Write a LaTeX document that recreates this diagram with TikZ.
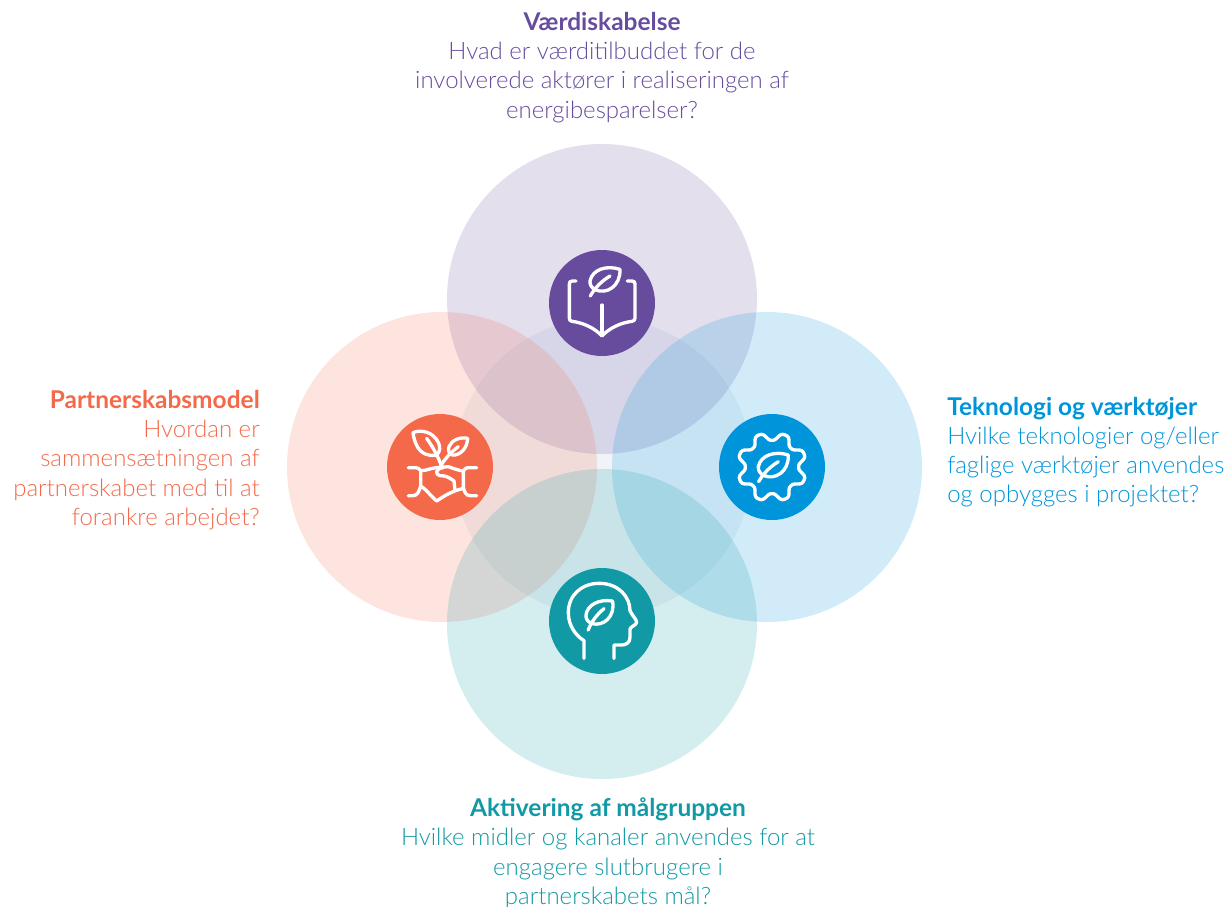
\documentclass[tikz,border=0pt]{standalone}
\usepackage{fontspec}
\setmainfont{Lato Light}[BoldFont=Lato Bold]
\usetikzlibrary{positioning}
\definecolor{vaerdiCol}{HTML}{674C9E}
\definecolor{partnerCol}{HTML}{F4694A}
\definecolor{teknoCol}{HTML}{0095DA}
\definecolor{aktivCol}{HTML}{1299A6}
\definecolor{midCol}{RGB}{155,182,208}
\newcommand{\capTitle}[1]{{\fontsize{18.35}{21.9}\selectfont\bfseries #1}}

\begin{document}
\begin{tikzpicture}[
        x=0.75pt, y=-0.75pt,
        declare function={gearrad(\t)=92+13*cos(8*(\t-22.5))-1.2*cos(24*(\t-22.5));},
        bigdisc/.style={
            circle, inner sep=0pt, minimum size=232.5pt, fill opacity=0.18
        },
        icondisc/.style={
            circle, inner sep=0pt, minimum size=79.5pt
        },
        caption/.style={
            font=\fontsize{18}{21.9}\selectfont, inner sep=0pt
        },
        iconline/.style={
            draw=white, line width=2.5pt, line cap=round, line join=round
        },
        iconscope/.style={
            shift={#1}, x=0.25pt, y=-0.25pt
        },
        leaf/.pic={
            \draw[iconline] (45,-35) .. controls (5,-48) and (-38,-35) .. (-45,0) .. controls (-46,12) and (-40,20) .. (-30,26) .. controls (5,42) and (47,15) .. (45,-35);
            \draw[iconline] (-44,45) .. controls (-30,20) and (-10,0) .. (15,-15);
        },
    ]
    \useasboundingbox (0,0) rectangle (1229,907);

    \node (midDisc) [circle, inner sep=0pt, minimum size=223.5pt, fill=midCol, fill opacity=0.15] at (603,467) {};

    \node (vaerdiDisc) [bigdisc, fill=vaerdiCol] at (602,299) {};
    \node (partnerDisc) [bigdisc, fill=partnerCol] at (442,467) {};
    \node (teknoDisc) [bigdisc, fill=teknoCol] at (767,467) {};
    \node (aktivDisc) [bigdisc, fill=aktivCol] at (602,624) {};

    \node (vaerdiIcon) [icondisc, fill=vaerdiCol] at (602,303) {};
    \node (partnerIcon) [icondisc, fill=partnerCol] at (440,467) {};
    \node (teknoIcon) [icondisc, fill=teknoCol] at (772,467) {};
    \node (aktivIcon) [icondisc, fill=aktivCol] at (602,621) {};

    % book
    \begin{scope}[iconscope={(540,240)}]
        \draw[iconline] (108,123) -- (97,123) .. controls (91,123) and (88,126) .. (88,132) -- (88,234) .. controls (88,240) and (90,243) .. (96,244) .. controls (130,248) and (165,265) .. (186,288) .. controls (207,265) and (242,248) .. (276,244) .. controls (282,243) and (285,240) .. (285,234) -- (285,132) .. controls (285,126) and (282,123) .. (276,123) -- (262,123);
        \draw[iconline] (186,195) -- (186,285);
        \path (195,123) pic {leaf};
    \end{scope}

    % plant and hands
    \begin{scope}[iconscope={(380,405)}]
        \draw[iconline] (99,83) .. controls (125,72) and (160,82) .. (175,112) .. controls (182,128) and (180,140) .. (170,150) .. controls (150,155) and (125,148) .. (112,125) .. controls (104,110) and (100,95) .. (99,83) -- cycle;
        \draw[iconline] (140,100) .. controls (158,125) and (175,155) .. (185,185);
        \draw[iconline] (263,100) .. controls (240,95) and (215,105) .. (207,125) .. controls (203,138) and (208,148) .. (218,150) .. controls (240,152) and (262,130) .. (263,100) -- cycle;
        \draw[iconline] (235,125) .. controls (215,140) and (195,160) .. (182,183);
        \draw[iconline] (85,188) -- (108,188) .. controls (115,188) and (118,192) .. (122,197) .. controls (122,215) and (122,230) .. (122,243) .. controls (118,258) and (112,272) .. (100,272) -- (85,272);
        \draw[iconline] (122,197) .. controls (140,197) and (150,190) .. (168,188) -- (205,185) .. controls (225,192) and (235,196) .. (250,198);
        \draw[iconline] (290,188) -- (268,188) .. controls (258,188) and (252,192) .. (250,198) -- (250,245) .. controls (252,260) and (258,272) .. (270,272) -- (290,272);
        \draw[iconline] (122,243) .. controls (135,250) and (150,270) .. (170,288) .. controls (190,275) and (210,260) .. (250,250);
        \draw[iconline] (190,188) .. controls (165,190) and (165,210) .. (180,212) .. controls (195,212) and (205,215) .. (222,228) -- (225,255);
    \end{scope}

    % gear
    \begin{scope}[iconscope={(710,405)}]
        \draw[iconline] plot[domain=0:360, samples=289, smooth] ({186+gearrad(\x)*cos(\x)}, {186+gearrad(\x)*sin(\x)}) -- cycle;
        \path (190,185) pic {leaf};
    \end{scope}

    % head
    \begin{scope}[iconscope={(540,560)}]
        \draw[iconline] (132,295) -- (132,242) .. controls (105,225) and (85,195) .. (85,158) .. controls (85,105) and (125,70) .. (178,70) .. controls (235,70) and (270,110) .. (270,152) .. controls (275,165) and (290,178) .. (290,187) .. controls (288,197) and (270,200) .. (270,208) -- (270,232) .. controls (270,248) and (258,255) .. (245,255) -- (222,255) -- (222,295);
        \path (180,162) pic[scale=0.95, rotate=8] {leaf};
    \end{scope}

    \node (vaerdiText) [caption, align=center, text=vaerdiCol, above=15.75pt of vaerdiDisc.north, anchor=south] {\capTitle{Værdiskabelse}\\Hvad er værditilbuddet for de\\involverede aktører i realiseringen af\\energibesparelser?};
    \node (partnerText) [caption, align=right, text=partnerCol, anchor=east] at (260,460) {\capTitle{Partnerskabsmodel}\\Hvordan er\\sammensætningen af\\partnerskabet med til at\\forankre arbejdet?};
    \node (teknoText) [caption, align=left, text=teknoCol, anchor=west] at (947,452) {\capTitle{Teknologi og værktøjer}\\Hvilke teknologier og/eller\\faglige værktøjer anvendes\\og opbygges i projektet?};
    \node (aktivText) [caption, align=center, text=aktivCol, below=13.75pt of aktivDisc.south, anchor=north, xshift=4.5pt] {\capTitle{Aktivering af målgruppen}\\Hvilke midler og kanaler anvendes for at\\engagere slutbrugere i\\partnerskabets mål?};
\end{tikzpicture}
\end{document}
